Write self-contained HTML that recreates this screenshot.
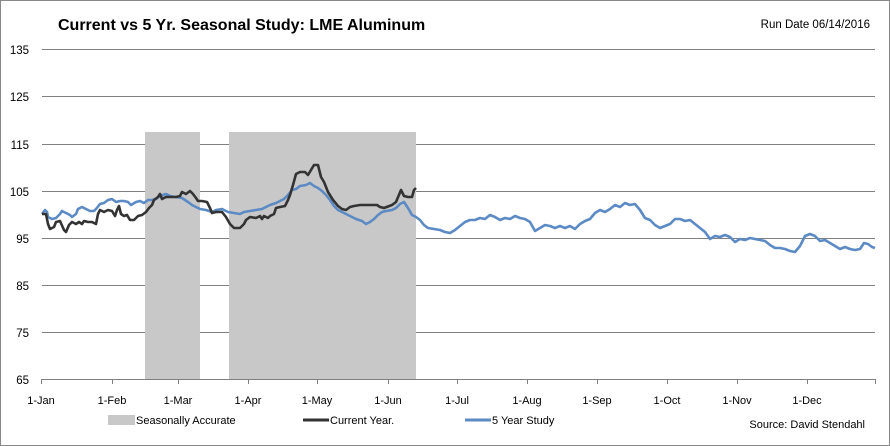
<!DOCTYPE html>
<html><head><meta charset="utf-8"><style>
body{margin:0;background:#fff;}
svg{display:block;font-family:"Liberation Sans",sans-serif;}
</style></head><body>
<svg width="890" height="446" viewBox="0 0 890 446">
<rect x="0.5" y="0.5" width="889" height="445" fill="#fff" stroke="#888"/>
<text x="58" y="30" font-size="16" font-weight="bold" fill="#000">Current vs 5 Yr. Seasonal Study: LME Aluminum</text>
<text x="870" y="28" font-size="11.5" text-anchor="end" fill="#000">Run Date 06/14/2016</text>
<g stroke="#808080" stroke-width="1">
<line x1="42" y1="49.5" x2="875" y2="49.5"/><line x1="42" y1="96.5" x2="875" y2="96.5"/>
<line x1="42" y1="144.5" x2="875" y2="144.5"/><line x1="42" y1="191.5" x2="875" y2="191.5"/>
<line x1="42" y1="238.5" x2="875" y2="238.5"/><line x1="42" y1="285.5" x2="875" y2="285.5"/>
<line x1="42" y1="332.5" x2="875" y2="332.5"/>
</g>
<rect x="145" y="132" width="55" height="247" fill="#c8c8c8"/>
<rect x="229" y="132" width="187" height="247" fill="#c8c8c8"/>
<g stroke="#808080" stroke-width="1">
<line x1="42" y1="379.5" x2="875" y2="379.5"/>
<line x1="41.5" y1="379" x2="41.5" y2="384"/><line x1="112.5" y1="379" x2="112.5" y2="384"/>
<line x1="178.5" y1="379" x2="178.5" y2="384"/><line x1="248.5" y1="379" x2="248.5" y2="384"/>
<line x1="317.5" y1="379" x2="317.5" y2="384"/><line x1="388.5" y1="379" x2="388.5" y2="384"/>
<line x1="457.5" y1="379" x2="457.5" y2="384"/><line x1="527.5" y1="379" x2="527.5" y2="384"/>
<line x1="597.5" y1="379" x2="597.5" y2="384"/><line x1="667.5" y1="379" x2="667.5" y2="384"/>
<line x1="737.5" y1="379" x2="737.5" y2="384"/><line x1="807.5" y1="379" x2="807.5" y2="384"/>
<line x1="875.5" y1="379" x2="875.5" y2="384"/>
</g>
<g font-size="11.5" text-anchor="end" fill="#000">
<text x="29" y="54">135</text><text x="29" y="101">125</text><text x="29" y="149">115</text>
<text x="29" y="196">105</text><text x="29" y="243">95</text><text x="29" y="290">85</text>
<text x="29" y="337">75</text><text x="29" y="384">65</text>
</g>
<g font-size="11" text-anchor="middle" fill="#000">
<text x="41" y="404">1-Jan</text><text x="112" y="404">1-Feb</text><text x="178" y="404">1-Mar</text>
<text x="248" y="404">1-Apr</text><text x="317" y="404">1-May</text><text x="388" y="404">1-Jun</text>
<text x="457" y="404">1-Jul</text><text x="527" y="404">1-Aug</text><text x="597" y="404">1-Sep</text>
<text x="667" y="404">1-Oct</text><text x="737" y="404">1-Nov</text><text x="807" y="404">1-Dec</text>
</g>
<polyline fill="none" stroke="#5b8ac4" stroke-width="2.6" stroke-linejoin="round" points="42,214 45,210 47,212 48,217 52,219 56,218 60,214 62,211 66,213 70,215 72,217 76,214 78,209 82,207 86,209 90,211 94,211 96,209 100,204 104,203 108,200 112,199 116,202 120,201 124,201 128,202 131,205 136,202 140,201 144,203 148,200 152,200 156,199 160,196 166,194 170,196 176,197 182,198 188,202 192,205 196,207 200,209 206,210 212,212 216,210 222,209 228,212 234,213 240,214 244,212 250,211 256,210 262,209 266,207 270,205 276,203 280,201 284,199 288,195 292,190 296,189 300,186 306,185 310,183 314,186 318,188 322,191 326,195 330,200 334,206 338,210 344,213 350,216 356,219 362,221 366,224 370,222 374,219 378,215 382,212 386,211 392,210 396,208 400,204 404,202 408,208 412,215 416,217 420,220 424,225 428,228 434,229 440,230 445,232 450,233 455,230 460,226 465,222 470,220 475,220 480,218 485,219 490,215 495,217 500,220 505,218 510,219 515,216 520,218 525,219 530,222 535,231 540,228 545,225 550,226 555,228 560,226 565,228 570,226 575,229 580,224 585,221 590,219 595,213 600,210 605,212 610,209 615,205 620,207 625,203 630,205 635,204 640,210 645,218 650,220 655,225 660,228 665,226 670,224 675,219 680,219 685,221 690,220 695,224 700,228 705,232 710,239 715,236 720,237 725,235 730,237 735,242 740,239 745,240 750,238 755,239 760,240 765,241 770,245 775,248 780,248 785,249 790,251 795,252 800,246 805,236 810,234 815,236 820,241 825,240 830,243 835,246 840,249 845,247 850,249 855,250 860,249 864,243 868,244 872,247 875,248"/>
<polyline fill="none" stroke="#333" stroke-width="2.6" stroke-linejoin="round" points="42,214 46,214 48,224 50,229 54,227 56,222 60,221 64,230 66,232 69,225 72,222 76,224 79,222 82,224 84,221 88,222 92,222 96,224 98,214 100,210 104,212 108,210 112,211 115,216 117,210 119,206 121,214 124,216 127,215 130,220 134,220 138,216 142,215 146,212 149,208 152,205 154,200 158,197 160,194 162,199 166,197 170,197 176,197 180,196 182,192 186,194 190,191 193,194 196,198 198,201 202,201 207,202 210,208 212,213 216,212 222,212 226,217 230,224 234,228 240,228 244,224 246,220 250,217 256,218 260,216 262,219 264,216 268,218 270,216 274,214 276,208 280,207 285,206 288,200 290,195 293,185 296,174 300,172 305,172 308,175 311,170 314,165 318,165 321,177 324,182 328,192 333,200 338,206 342,209 346,210 350,207 354,206 360,205 366,205 372,205 377,205 380,207 384,208 392,205 396,202 401,190 403,194 404,196 408,197 412,197 414,190 416,188"/>
<rect x="108" y="415" width="27" height="10" fill="#c8c8c8"/>
<text x="136" y="424" font-size="11" fill="#000">Seasonally Accurate</text>
<line x1="303" y1="420" x2="329" y2="420" stroke="#333" stroke-width="3"/>
<text x="330" y="424" font-size="11" fill="#000">Current Year.</text>
<line x1="465" y1="420" x2="491" y2="420" stroke="#5b8ac4" stroke-width="3"/>
<text x="492" y="424" font-size="11" fill="#000">5 Year Study</text>
<text x="865" y="428" font-size="11" text-anchor="end" fill="#000">Source: David Stendahl</text>
</svg>
</body></html>
